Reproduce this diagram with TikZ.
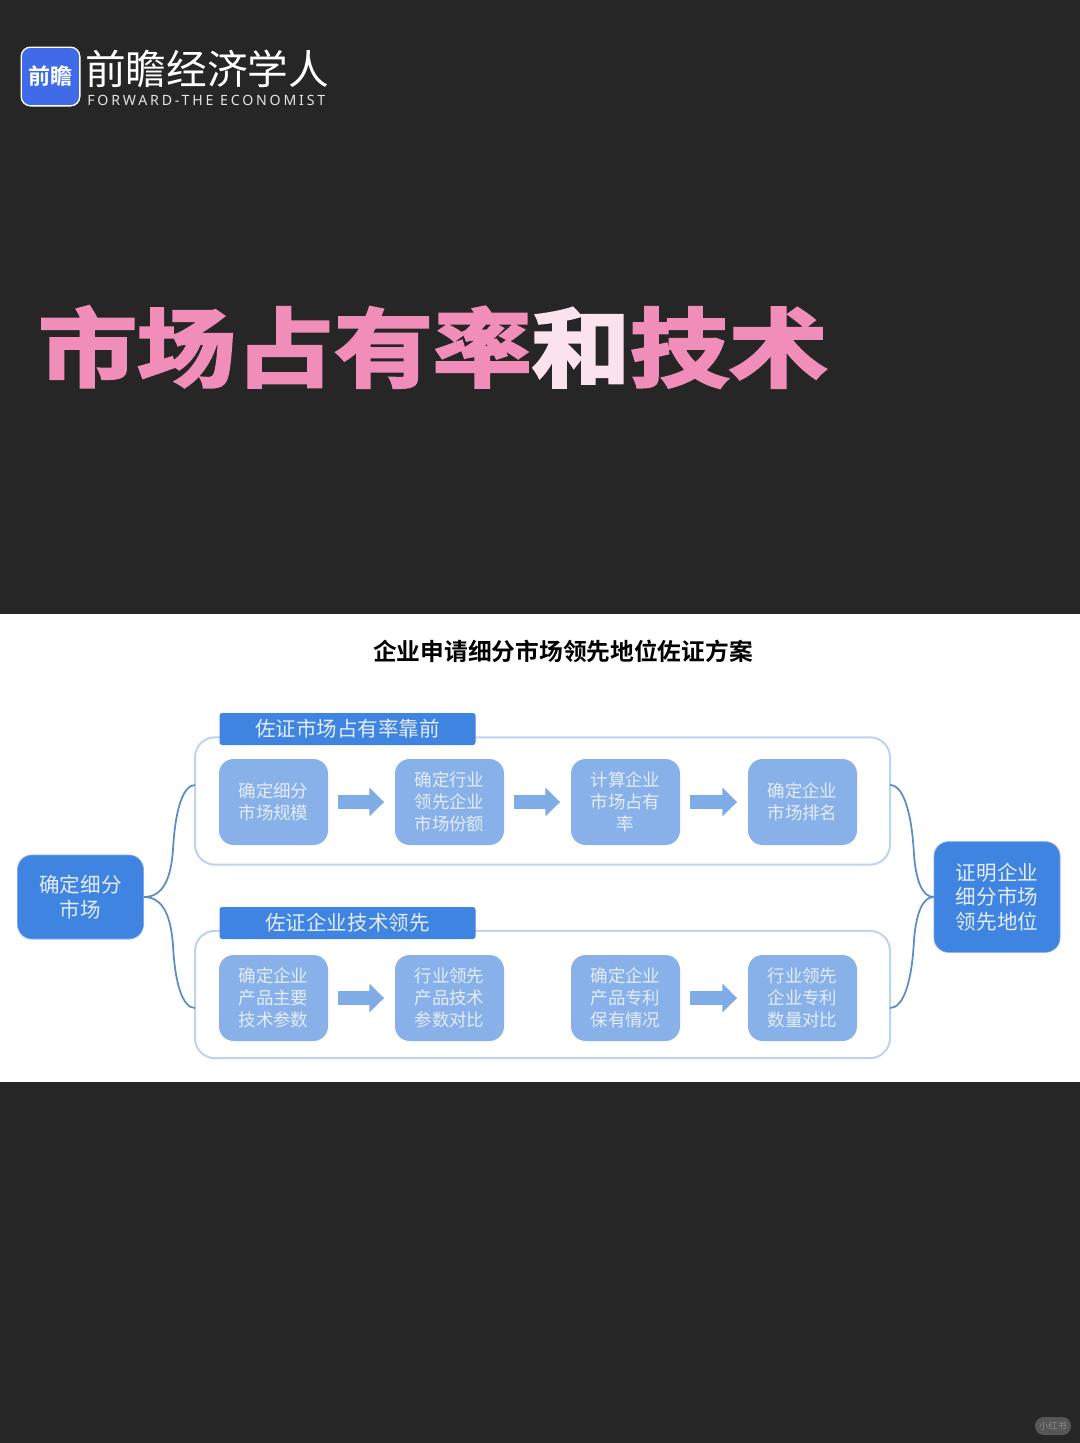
\documentclass[tikz,border=0pt]{standalone}
\usepackage{fontspec}
\usetikzlibrary{arrows.meta}
\newfontfamily\cjk{Noto Sans CJK SC}
\newfontfamily\cjkbold{Noto Sans CJK SC Bold}
\newfontfamily\cjkheavy[FakeBold=3]{Noto Sans CJK SC Bold}
\newfontfamily\latinlogo[LetterSpace=20]{Noto Sans}
\definecolor{pagedark}{HTML}{262626}
\definecolor{darkblue}{HTML}{3F84E0}
\definecolor{midblue}{HTML}{88B1E9}
\definecolor{arrowblue}{HTML}{7FABE7}
\definecolor{lineblue}{HTML}{BDD3F0}
\definecolor{curveblue}{HTML}{5A8CC6}
\definecolor{softwhite}{HTML}{E4EDF9}
\definecolor{titlepink}{HTML}{F08DB9}
\definecolor{titlepale}{HTML}{FBE3EE}
\definecolor{logoblue}{HTML}{3F6BE8}
\tikzset{
	groupbox/.style={draw=lineblue, line width=1.5pt, fill=white, rounded corners=15pt, minimum width=521.25pt, minimum height=95.5pt, inner sep=0pt},
	headbox/.style={fill=darkblue, rounded corners=2pt, minimum width=192pt, minimum height=24pt, inner sep=0pt, text=softwhite, font=\cjk\fontsize{15.4}{18}\selectfont},
	stepbox/.style={fill=midblue, rounded corners=11pt, minimum width=81.75pt, minimum height=64.5pt, inner sep=0pt, align=center, text=softwhite, font=\cjk\fontsize{13.1}{16.6}\selectfont},
	endbox/.style={fill=darkblue, draw=darkblue!70!white, line width=0.5pt, rounded corners=11pt, minimum width=94.5pt, inner sep=0pt, align=center, text=softwhite, font=\cjk\fontsize{15.4}{18.6}\selectfont},
	blockarrow/.style={draw=arrowblue, line width=11pt, shorten >=8pt, shorten <=7pt, -{Triangle[length=11pt,width=21pt]}},
	curveline/.style={draw=curveblue, line width=1.3pt}
}
\begin{document}
\begin{tikzpicture}[x=0.75pt, y=-0.75pt]

	% Page
	\useasboundingbox (0,0) rectangle (1080,1443);
	\fill[pagedark] (0,0) rectangle (1080,1443);
	\fill[white] (0,614) rectangle (1080,1082);

	% Logo
	\node[fill=logoblue, draw=white, line width=1pt, rounded corners=7pt, minimum size=44pt, inner sep=0pt, text=white, font=\cjkbold\fontsize{16.5}{18}\selectfont] (logobox) at (50.5,76.5) {前瞻};
	\node[anchor=west, inner sep=0pt, text=white, font=\cjk\fontsize{30.5}{32}\selectfont] (logoname) at (85,69) {前瞻经济学人};
	\node[anchor=west, inner sep=0pt, text=white!90!black, font=\latinlogo\fontsize{10.6}{12}\selectfont] (logolatin) at (87,100.5) {FORWARD-THE ECONOMIST};

	% Title
	\node[anchor=west, inner sep=0pt, yscale=0.87, transform shape, font=\cjkheavy\fontsize{74}{80}\selectfont] (title) at (38,347) {\textcolor{titlepink}{市场占有率}\textcolor{titlepale}{和}\textcolor{titlepink}{技术}};
	\node[inner sep=0pt, text=black, font=\cjkbold\fontsize{17.8}{20}\selectfont] (plantitle) at (563,651) {企业申请细分市场领先地位佐证方案};

	% Groups
	\node[groupbox] (groupa) at (542.5,801) {};
	\node[groupbox] (groupb) at (542.5,994.5) {};
	\node[headbox] (heada) at (347.5,729) {佐证市场占有率靠前};
	\node[headbox] (headb) at (347.5,923) {佐证企业技术领先};

	% Outer boxes
	\node[endbox, minimum height=63pt] (start) at (80.5,897) {确定细分\\市场};
	\node[endbox, minimum height=83pt] (finish) at (997,897) {证明企业\\细分市场\\领先地位};

	% Upper row
	\node[stepbox] (aone) at (273.5,802) {确定细分\\市场规模};
	\node[stepbox] (atwo) at (449.5,802) {确定行业\\领先企业\\市场份额};
	\node[stepbox] (athree) at (625.5,802) {计算企业\\市场占有\\率};
	\node[stepbox] (afour) at (802.5,802) {确定企业\\市场排名};

	% Lower row
	\node[stepbox] (bone) at (273.5,998) {确定企业\\产品主要\\技术参数};
	\node[stepbox] (btwo) at (449.5,998) {行业领先\\产品技术\\参数对比};
	\node[stepbox] (bthree) at (625.5,998) {确定企业\\产品专利\\保有情况};
	\node[stepbox] (bfour) at (802.5,998) {行业领先\\企业专利\\数量对比};

	% Block arrows
	\draw[blockarrow] (aone) -- (atwo);
	\draw[blockarrow] (atwo) -- (athree);
	\draw[blockarrow] (athree) -- (afour);
	\draw[blockarrow] (bone) -- (btwo);
	\draw[blockarrow] (bthree) -- (bfour);

	% Curves
	\coordinate (ainleft) at (195,785);
	\coordinate (binleft) at (195,1008);
	\coordinate (aoutright) at (890,785);
	\coordinate (boutright) at (890,1008);
	\draw[curveline] (start.east) .. controls (165,897) and (171,875) .. (173,850) .. controls (175,810) and (183,785) .. (ainleft);
	\draw[curveline] (start.east) .. controls (165,897) and (171,920) .. (173,945) .. controls (175,985) and (183,1008) .. (binleft);
	\draw[curveline] (finish.west) .. controls (922,897) and (916,880) .. (914,855) .. controls (912,815) and (904,785) .. (aoutright);
	\draw[curveline] (finish.west) .. controls (922,897) and (916,915) .. (914,940) .. controls (912,980) and (904,1008) .. (boutright);

	% Watermark
	\node[fill=white!22!pagedark, rounded corners=6.5pt, minimum width=27pt, minimum height=13.5pt, inner sep=0pt, text=white!45!pagedark, font=\cjk\fontsize{7}{8}\selectfont] (mark) at (1053,1426) {小红书};

\end{tikzpicture}
\end{document}
